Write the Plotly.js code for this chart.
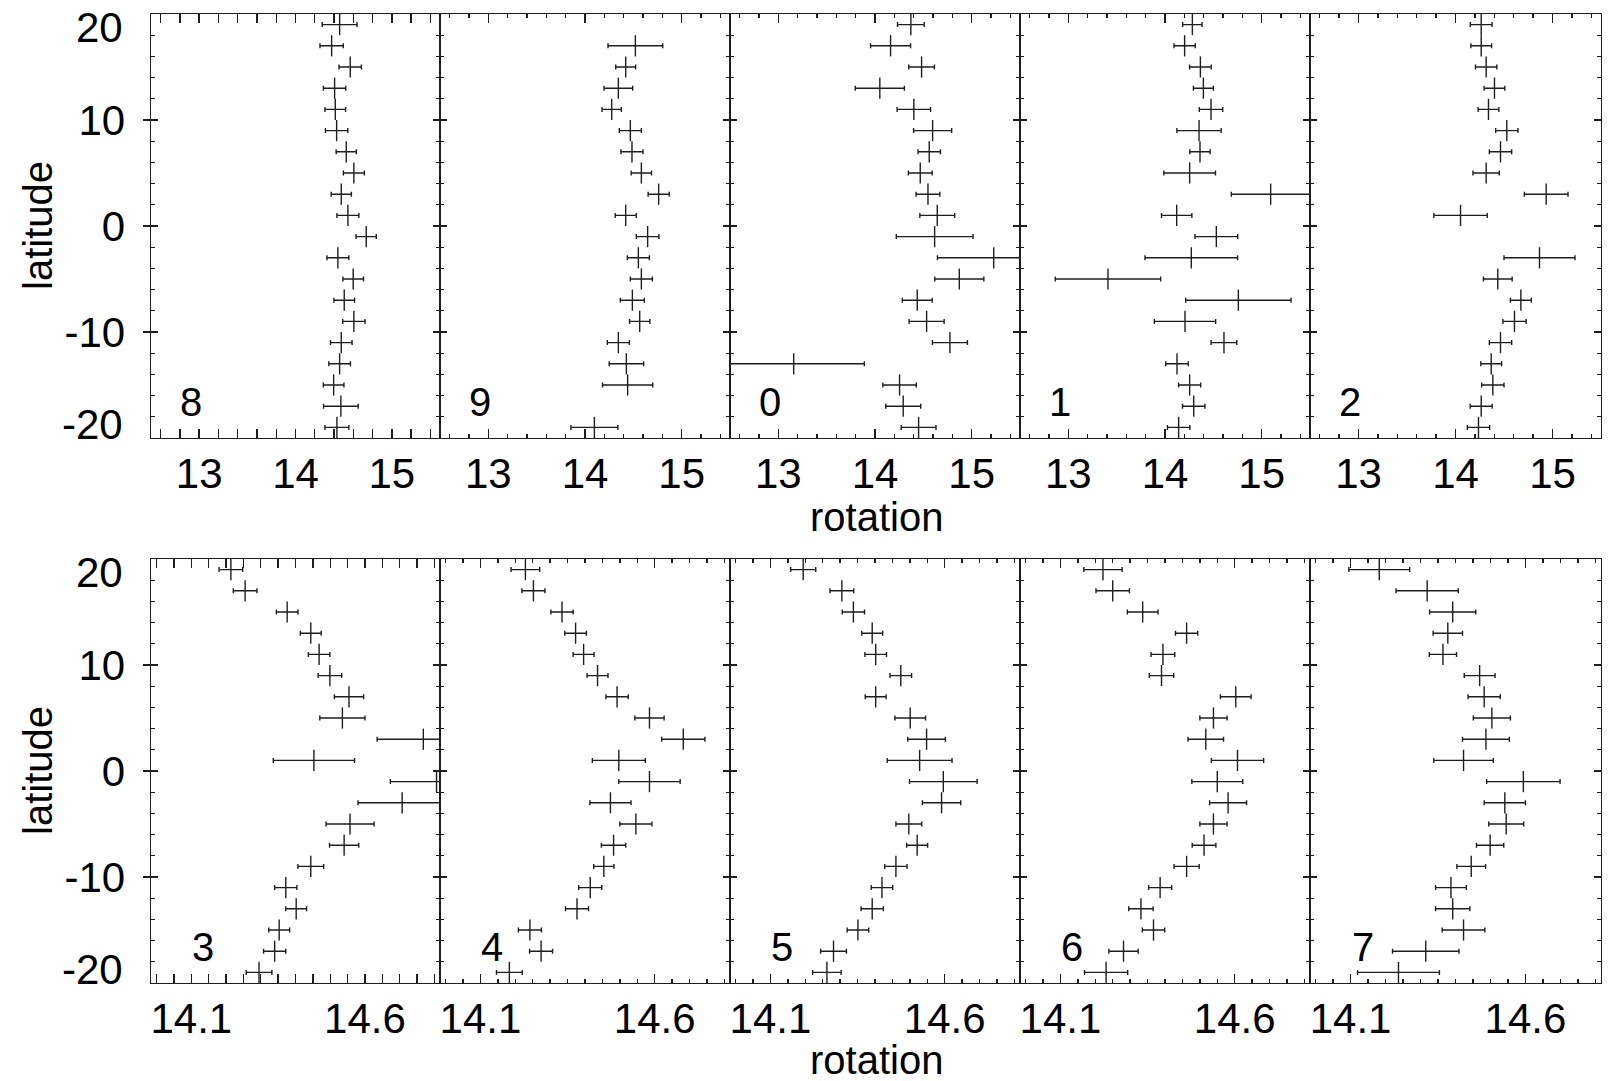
<!DOCTYPE html>
<html>
<head>
<meta charset="utf-8">
<script src="https://cdn.plot.ly/plotly-3.0.1.min.js"></script>
<style>
  html, body { margin: 0; padding: 0; background: #ffffff; }
  #chart { width: 1611px; height: 1081px; }
</style>
</head>
<body>
<div id="chart"></div>
<script>
// Latitude bins (centres, 2-degree bins) shared by every panel
const latitude = [19, 17, 15, 13, 11, 9, 7, 5, 3, 1, -1, -3, -5, -7, -9, -11, -13, -15, -17, -19];

// Panel tags, in drawing order (top row then bottom row)
const panelLabels = ['8', '9', '0', '1', '2', '3', '4', '5', '6', '7'];

// Rotation values and their uncertainties, one pair of arrays per panel
const rot8 = [14.458, 14.375, 14.568, 14.406, 14.413, 14.427, 14.527, 14.606, 14.475, 14.544, 14.734, 14.440, 14.599, 14.506, 14.606, 14.475, 14.458, 14.396, 14.471, 14.430];
const err8 = [0.181, 0.121, 0.116, 0.116, 0.107, 0.116, 0.105, 0.109, 0.105, 0.114, 0.105, 0.114, 0.107, 0.107, 0.116, 0.112, 0.112, 0.107, 0.180, 0.124];

const rot9 = [null, 14.521, 14.421, 14.345, 14.276, 14.469, 14.486, 14.583, 14.762, 14.421, 14.648, 14.552, 14.583, 14.490, 14.566, 14.345, 14.428, 14.441, null, 14.097];
const err9 = [null, 0.283, 0.103, 0.148, 0.100, 0.114, 0.114, 0.105, 0.109, 0.109, 0.117, 0.114, 0.114, 0.124, 0.105, 0.114, 0.178, 0.260, null, 0.243];

const rot0 = [14.371, 14.161, 14.482, 14.050, 14.402, 14.596, 14.561, 14.468, 14.548, 14.644, 14.617, 15.228, 14.872, 14.437, 14.534, 14.775, 13.159, 14.254, 14.292, 14.451];
const err0 = [0.138, 0.207, 0.133, 0.254, 0.173, 0.197, 0.116, 0.123, 0.123, 0.180, 0.397, 0.582, 0.254, 0.155, 0.181, 0.181, 0.731, 0.173, 0.181, 0.180];

const rot1 = [14.283, 14.203, 14.366, 14.397, 14.476, 14.352, 14.362, 14.255, 15.093, 14.121, 14.531, 14.272, 13.410, 14.759, 14.207, 14.610, 14.124, 14.255, 14.297, 14.141];
const err1 = [0.100, 0.110, 0.112, 0.103, 0.121, 0.229, 0.105, 0.267, 0.407, 0.157, 0.221, 0.479, 0.545, 0.545, 0.317, 0.133, 0.117, 0.114, 0.116, 0.116];

const rot2 = [14.265, 14.265, 14.316, 14.402, 14.340, 14.529, 14.464, 14.316, 14.935, 14.052, null, 14.866, 14.436, 14.674, 14.608, 14.464, 14.368, 14.385, 14.265, 14.237];
const err2 = [0.112, 0.107, 0.110, 0.107, 0.107, 0.115, 0.115, 0.136, 0.225, 0.275, null, 0.366, 0.148, 0.108, 0.120, 0.115, 0.107, 0.115, 0.113, 0.115];

const rot3 = [14.214, 14.255, 14.376, 14.444, 14.468, 14.499, 14.554, 14.535, 14.768, 14.453, 14.806, 14.707, 14.557, 14.540, 14.444, 14.372, 14.402, 14.353, 14.340, 14.295];
const err3 = [0.034, 0.034, 0.031, 0.030, 0.031, 0.034, 0.042, 0.065, 0.133, 0.117, 0.133, 0.127, 0.069, 0.042, 0.037, 0.032, 0.030, 0.030, 0.032, 0.037];

const rot4 = [14.229, 14.252, 14.334, 14.373, 14.396, 14.436, 14.492, 14.585, 14.682, 14.497, 14.585, 14.473, 14.546, 14.482, 14.454, 14.415, 14.377, 14.242, 14.274, 14.183];
const err4 = [0.041, 0.033, 0.032, 0.031, 0.030, 0.030, 0.032, 0.042, 0.062, 0.076, 0.088, 0.059, 0.046, 0.035, 0.029, 0.033, 0.033, 0.033, 0.033, 0.037];

const rot5 = [14.194, 14.305, 14.338, 14.392, 14.402, 14.474, 14.402, 14.501, 14.548, 14.528, 14.596, 14.591, 14.497, 14.521, 14.460, 14.420, 14.392, 14.351, 14.281, 14.262];
const err5 = [0.036, 0.034, 0.032, 0.030, 0.031, 0.031, 0.030, 0.044, 0.054, 0.093, 0.097, 0.055, 0.037, 0.030, 0.032, 0.031, 0.032, 0.031, 0.037, 0.041];

const rot6 = [14.222, 14.250, 14.336, 14.462, 14.394, 14.390, 14.603, 14.539, 14.517, 14.608, 14.550, 14.581, 14.539, 14.512, 14.462, 14.386, 14.331, 14.367, 14.281, 14.231];
const err6 = [0.055, 0.048, 0.044, 0.032, 0.034, 0.035, 0.044, 0.039, 0.051, 0.075, 0.073, 0.053, 0.039, 0.034, 0.036, 0.033, 0.035, 0.032, 0.042, 0.062];

const rot7 = [14.182, 14.319, 14.392, 14.378, 14.364, 14.469, 14.482, 14.504, 14.487, 14.423, 14.594, 14.541, 14.545, 14.499, 14.445, 14.387, 14.392, 14.423, 14.315, 14.237];
const err7 = [0.087, 0.089, 0.066, 0.042, 0.039, 0.044, 0.046, 0.053, 0.067, 0.085, 0.105, 0.059, 0.050, 0.039, 0.041, 0.044, 0.049, 0.061, 0.095, 0.117];

// Axis tick labels
const topTickVals = [13, 14, 15];
const topTickText = ['13', '14', '15'];
const bottomTickVals = [14.1, 14.6];
const bottomTickText = ['14.1', '14.6'];
const latTickVals = [-10, 0, 10];
const latTickText = ['-10', '0', '10'];
const latEndLabels = ['20', '-20'];

const panelRot = [rot8, rot9, rot0, rot1, rot2, rot3, rot4, rot5, rot6, rot7];
const panelErr = [err8, err9, err0, err1, err2, err3, err4, err5, err6, err7];

// ---- geometry (page pixels) ----
const W = 1611, H = 1081;
const colEdges = [151, 440, 730, 1020, 1310, 1601];
const rowSpan = [[14, 438], [559, 983]];     // [top, bottom] of each row
const px = v => v / W;
const py = v => 1 - v / H;

const INK = '#1e1e1e';
const FONT = 'Liberation Sans, Arial, Helvetica, sans-serif';

const traces = [];
const layout = {
  width: W, height: H,
  margin: { l: 0, r: 0, t: 0, b: 0 },
  paper_bgcolor: '#ffffff',
  plot_bgcolor: '#ffffff',
  showlegend: false,
  font: { family: FONT, color: '#000000', size: 40 },
  annotations: []
};

for (let i = 0; i < 10; i++) {
  const row = i < 5 ? 0 : 1;
  const col = i % 5;
  const n = i + 1;
  const xName = 'xaxis' + n, yName = 'yaxis' + n;
  const xRef = 'x' + n, yRef = 'y' + n;

  traces.push({
    type: 'scatter',
    mode: 'markers',
    x: panelRot[i],
    y: latitude,
    xaxis: xRef, yaxis: yRef,
    cliponaxis: false,
    marker: { size: 1, color: 'rgba(0,0,0,0)' },
    error_x: { type: 'data', array: panelErr[i], symmetric: true, color: INK, thickness: 1.4, width: 2.5 },
    error_y: { type: 'constant', value: 1, color: INK, thickness: 1.4, width: 0 },
    hoverinfo: 'skip'
  });

  const common = {
    showgrid: false, zeroline: false,
    showline: true, linecolor: INK, linewidth: 1.4,
    mirror: 'allticks', ticks: 'inside', tickcolor: INK, tickwidth: 1.4,
    tickfont: { family: FONT, size: 42, color: '#000000' },
    fixedrange: true
  };

  layout[xName] = Object.assign({}, common, {
    domain: [px(colEdges[col]), px(colEdges[col + 1])],
    anchor: yRef,
    range: row === 0 ? [12.5, 15.5] : [13.984, 14.816],
    tickmode: 'array',
    tickvals: row === 0 ? topTickVals : bottomTickVals,
    ticktext: row === 0 ? topTickText : bottomTickText,
    ticklen: 9,
    ticklabelstandoff: -2,
    minor: { tickmode: 'linear', tick0: row === 0 ? 13 : 14.1, dtick: row === 0 ? 0.2 : 0.05,
             ticks: 'inside', ticklen: 4, tickwidth: 1.3, tickcolor: INK, showgrid: false }
  });

  layout[yName] = Object.assign({}, common, {
    domain: [py(rowSpan[row][1]), py(rowSpan[row][0])],
    anchor: xRef,
    range: [-20, 20],
    tickmode: 'array',
    tickvals: latTickVals,
    ticktext: latTickText,
    showticklabels: col === 0,
    ticklen: 7,
    ticklabelstandoff: 16,
    minor: { tickmode: 'linear', tick0: 0, dtick: 2,
             ticks: 'inside', ticklen: 4, tickwidth: 1.3, tickcolor: INK, showgrid: false }
  });

  // panel tag in the lower-left corner
  layout.annotations.push({
    text: panelLabels[i],
    xref: xRef + ' domain', yref: yRef + ' domain',
    x: row === 0 ? 0.138 : 0.181, y: 0.085,
    xanchor: 'center', yanchor: 'middle',
    showarrow: false,
    font: { family: FONT, size: 40, color: '#000000' }
  });
}

// Outward halves of the major latitude ticks on the outer left edge
[[1, 11], [6, 12]].forEach(([base, extra]) => {
  layout['yaxis' + extra] = {
    overlaying: 'y' + base, anchor: 'x' + base, side: 'left',
    range: [-20, 20], tickmode: 'array', tickvals: latTickVals,
    ticks: 'outside', ticklen: 7, tickwidth: 1.4, tickcolor: INK,
    showticklabels: false, showline: false, showgrid: false, zeroline: false, fixedrange: true
  };
  traces.push({ type: 'scatter', mode: 'markers', x: [], y: [], xaxis: 'x' + base, yaxis: 'y' + extra, hoverinfo: 'skip' });
});

// End labels of the latitude axis, kept inside the frame
rowSpan.forEach(([top, bottom]) => {
  layout.annotations.push({
    text: latEndLabels[0], xref: 'paper', yref: 'paper',
    x: px(125), y: py(top + 13), xanchor: 'right', yanchor: 'middle', showarrow: false,
    font: { family: FONT, size: 42, color: '#000000' }
  });
  layout.annotations.push({
    text: latEndLabels[1], xref: 'paper', yref: 'paper',
    x: px(125), y: py(bottom - 14), xanchor: 'right', yanchor: 'middle', showarrow: false,
    font: { family: FONT, size: 42, color: '#000000' }
  });
});

// Axis titles
[[226, 517], [771, 1060]].forEach(([latY, rotY]) => {
  layout.annotations.push({
    text: 'latitude', xref: 'paper', yref: 'paper',
    x: px(38), y: py(latY), xanchor: 'center', yanchor: 'middle',
    textangle: -90, showarrow: false,
    font: { family: FONT, size: 40, color: '#000000' }
  });
  layout.annotations.push({
    text: 'rotation', xref: 'paper', yref: 'paper',
    x: px(876), y: py(rotY), xanchor: 'center', yanchor: 'middle',
    showarrow: false, borderpad: 0,
    font: { family: FONT, size: 40, color: '#000000' }
  });
});

Plotly.newPlot('chart', traces, layout, { displayModeBar: false, staticPlot: true });
</script>
</body>
</html>
